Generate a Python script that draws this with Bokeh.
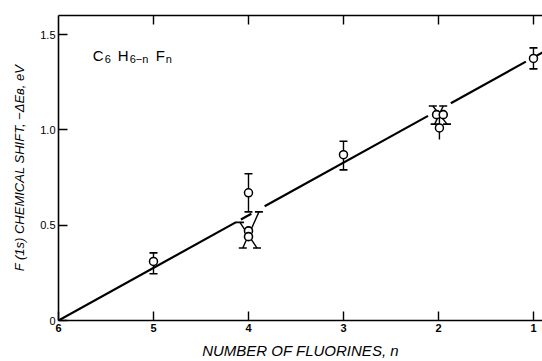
from bokeh.plotting import figure
from bokeh.models import Range1d, LinearAxis, FixedTicker, Label
from bokeh.embed import file_html
from bokeh.resources import INLINE

# ---- data ----
# single points with vertical error bars
n_pts = [5, 4, 3, 1, 1.99]
shift = [0.31, 0.67, 0.87, 1.375, 1.01]
err_lo = [0.245, 0.57, 0.79, 1.32, 0.95]
err_hi = [0.355, 0.77, 0.94, 1.43, 1.07]

# clustered points (n = 4 and n = 2)
n_cluster = [4, 4, 2.02, 1.95]
shift_cluster = [0.47, 0.44, 1.08, 1.08]

# slanted ("X") error bars of the clusters
xb0 = [4.09, 3.89, 2.06, 1.95]
yb0 = [0.515, 0.57, 1.125, 1.125]
xb1 = [3.91, 4.06, 1.91, 2.04]
yb1 = [0.38, 0.38, 1.03, 1.03]

# fitted line: shift = slope * (6 - n), drawn with gaps near the clusters
slope = 0.276
line_pieces = [(6.0, 4.13), (4.08, 3.97), (3.83, 2.11), (1.87, 1.08), (0.98, 0.905)]

x_ticks = [6, 5, 4, 3, 2, 1]
y_ticks = [0, 0.5, 1.0, 1.5]
y_tick_labels = {0: "0", 0.5: "0.5", 1.0: "1.0", 1.5: "1.5"}

# formula label pieces: (text, screen offset px, size px, subscript?)
formula = [("C", 0, "15px", False), ("6", 12, "11px", True),
           ("H", 25, "15px", False), ("6\u2212n", 37, "11px", True),
           ("F", 63, "15px", False), ("n", 73, "11px", True)]

FONT = "Liberation Sans"

p = figure(width=542, height=361, x_range=Range1d(6, 0.905), y_range=Range1d(0, 1.6),
           output_backend="svg", toolbar_location=None,
           min_border_left=58, min_border_right=0, min_border_top=15, min_border_bottom=39)
p.outline_line_color = None
p.grid.visible = False
p.background_fill_color = "white"
p.border_fill_color = "white"

# axes
for ax in (p.xaxis[0], p.yaxis[0]):
    ax.axis_line_width = 1.6
    ax.axis_line_color = "black"
    ax.major_tick_line_width = 1.4
    ax.major_tick_out = 0
    ax.major_tick_in = 9
    ax.minor_tick_line_color = None
    ax.major_label_text_font = FONT
    ax.major_label_text_font_size = "11px"
    ax.major_label_text_color = "black"
    ax.axis_label_text_font = FONT
    ax.axis_label_text_font_style = "italic"
    ax.axis_label_text_color = "black"

p.xaxis.ticker = FixedTicker(ticks=x_ticks)
p.xaxis.major_label_text_font_style = "bold"
p.xaxis.major_label_standoff = 3
p.xaxis.axis_label = "NUMBER OF FLUORINES, n"
p.xaxis.axis_label_text_font_size = "15px"
p.xaxis.axis_label_standoff = 7

p.yaxis.ticker = FixedTicker(ticks=y_ticks)
p.yaxis.major_label_overrides = y_tick_labels
p.yaxis.major_label_standoff = 3
p.yaxis.axis_label = "F (1s) CHEMICAL SHIFT, \u2212\u0394E\u0299, eV"
p.yaxis.axis_label_text_font_size = "13px"
p.yaxis.axis_label_standoff = 10

top = LinearAxis(ticker=FixedTicker(ticks=x_ticks[1:]), major_label_text_color=None,
                 axis_line_width=1.6, major_tick_line_width=1.4, major_tick_in=9,
                 major_tick_out=0, minor_tick_line_color=None, major_label_standoff=0)
p.add_layout(top, "above")

# fitted line
for a, b in line_pieces:
    p.line([a, b], [slope * (6 - a), slope * (6 - b)], line_color="black", line_width=2.2)

# vertical error bars
p.segment(n_pts, err_lo, n_pts, err_hi, line_color="black", line_width=1.4)
p.scatter(n_pts[:4], err_lo[:4], marker="dash", size=8, line_color="black", line_width=1.6)
p.scatter(n_pts, err_hi, marker="dash", size=8, line_color="black", line_width=1.6)

# slanted error bars
p.segment(xb0, yb0, xb1, yb1, line_color="black", line_width=1.4)
p.scatter(xb0, yb0, marker="dash", size=8, line_color="black", line_width=1.6)
p.scatter(xb1, yb1, marker="dash", size=8, line_color="black", line_width=1.6)

# points
p.scatter(n_pts, shift, marker="circle", size=8, line_color="black", line_width=1.5,
          fill_color="white")
p.scatter(n_cluster, shift_cluster, marker="circle", size=8, line_color="black",
          line_width=1.6, fill_color="white")

for txt, off, size, sub in formula:
    p.add_layout(Label(x=5.64, y=1.37 if sub else 1.39, x_offset=off, text=txt,
                       text_font=FONT, text_font_size=size, text_color="black",
                       text_baseline="alphabetic"))

open("out.html", "w").write(file_html(p, INLINE))
